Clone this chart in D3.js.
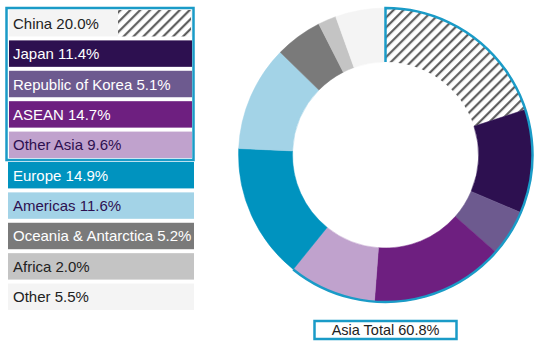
<!DOCTYPE html>
<html>
<head>
<meta charset="utf-8">
<script src="https://cdn.jsdelivr.net/npm/d3@7"></script>
<style>
  body { margin: 0; background: #fff; }
  svg { font-family: "Liberation Sans", Arial, sans-serif; }
</style>
</head>
<body>
<div id="chart"></div>
<script>
// data
var regions = ["China", "Japan", "Republic of Korea", "ASEAN", "Other Asia",
               "Europe", "Americas", "Oceania & Antarctica", "Africa", "Other"];
var shares = [20.0, 11.4, 5.1, 14.7, 9.6, 14.9, 11.6, 5.2, 2.0, 5.5];
var asiaRegions = ["China", "Japan", "Republic of Korea", "ASEAN", "Other Asia"];
var asiaTotal = 60.8;

var fills = ["url(#hatch)", "#2d1050", "#6d5a8f", "#6e1f80", "#c0a2cd",
             "#0093bf", "#a3d3e7", "#7a7a7a", "#c4c4c4", "#f4f4f4"];
var legendFills = ["#f4f4f4", "#2d1050", "#6d5a8f", "#6e1f80", "#c0a2cd",
                   "#0093bf", "#a3d3e7", "#7a7a7a", "#c4c4c4", "#f4f4f4"];
var textColors = ["#222", "#fff", "#fff", "#fff", "#2d1050",
                  "#fff", "#2d1050", "#fff", "#222", "#222"];
var frameBlue = "#1a9bc7";

var W = 540, H = 353;
var svg = d3.select("#chart").append("svg")
  .attr("width", W).attr("height", H);

// hatch pattern
var defs = svg.append("defs");
var pat = defs.append("pattern")
  .attr("id", "hatch")
  .attr("patternUnits", "userSpaceOnUse")
  .attr("width", 7).attr("height", 7)
  .attr("patternTransform", "rotate(45)");
pat.append("rect").attr("width", 7).attr("height", 7).attr("fill", "#fff");
pat.append("line").attr("x1", 1.2).attr("x2", 1.2).attr("y1", 0).attr("y2", 7)
  .attr("stroke", "#555").attr("stroke-width", 2.1);

var data = regions.map(function(r, i) { return {name: r, value: shares[i], i: i}; });

// ---- legend ----
var rowY = d3.scaleBand().domain(regions).range([10, 310]).paddingInner(0.13).paddingOuter(0);
var rowX0 = 8, rowX1 = 194;

var rows = svg.append("g").selectAll("g").data(data).enter().append("g")
  .attr("transform", function(d) { return "translate(0," + rowY(d.name) + ")"; });

rows.append("rect")
  .attr("x", function(d) { return asiaRegions.indexOf(d.name) >= 0 ? rowX0 + 1 : rowX0; })
  .attr("width", function(d) { return asiaRegions.indexOf(d.name) >= 0 ? rowX1 - rowX0 - 3 : rowX1 - rowX0; })
  .attr("height", rowY.bandwidth())
  .attr("fill", function(d) { return legendFills[d.i]; });

// hatched block on the China row
rows.filter(function(d) { return d.name === "China"; })
  .append("rect")
  .attr("x", 118).attr("width", rowX1 - 3 - 118)
  .attr("height", rowY.bandwidth())
  .attr("fill", "url(#hatch)");

rows.append("text")
  .attr("x", 13)
  .attr("y", rowY.bandwidth() / 2 + 5.5)
  .attr("fill", function(d) { return textColors[d.i]; })
  .style("font-size", "15px")
  .text(function(d) { return d.name + " " + d3.format(".1f")(d.value) + "%"; });

// frame round the Asia rows
var lastAsia = asiaRegions[asiaRegions.length - 1];
svg.append("rect")
  .attr("x", 6.5)
  .attr("y", rowY(asiaRegions[0]) - 2)
  .attr("width", 187)
  .attr("height", rowY(lastAsia) + rowY.bandwidth() - rowY(asiaRegions[0]) + 4)
  .attr("fill", "none")
  .attr("stroke", frameBlue)
  .attr("stroke-width", 2.5);

// ---- donut ----
var cx = 385.5, cy = 155, rOut = 147, rIn = 93;
var pie = d3.pie().sort(null).value(function(d) { return d.value; });
var arcs = pie(data);
var arc = d3.arc().innerRadius(rIn).outerRadius(rOut);

var g = svg.append("g").attr("transform", "translate(" + cx + "," + cy + ")");
g.selectAll("path.slice").data(arcs).enter().append("path")
  .attr("class", "slice")
  .attr("d", arc)
  .attr("fill", function(d) { return fills[d.data.i]; })
  .attr("stroke", function(d) { return fills[d.data.i] === "url(#hatch)" ? "none" : fills[d.data.i]; })
  .attr("stroke-width", 0.5);

// blue outline round the Asia part
var asiaArcs = arcs.filter(function(d) { return asiaRegions.indexOf(d.data.name) >= 0; });
var a0 = asiaArcs[0].startAngle, a1 = asiaArcs[asiaArcs.length - 1].endAngle;
var outline = d3.path();
outline.moveTo(rIn * Math.sin(a0), -rIn * Math.cos(a0));
outline.lineTo(rOut * Math.sin(a0), -rOut * Math.cos(a0));
outline.arc(0, 0, rOut, a0 - Math.PI / 2, a1 - Math.PI / 2, false);
g.append("path")
  .attr("d", outline.toString())
  .attr("fill", "none")
  .attr("stroke", frameBlue)
  .attr("stroke-width", 2.5);

// asia total box
var box = svg.append("g").attr("transform", "translate(" + cx + ",330)");
box.append("rect")
  .attr("x", -71).attr("y", -9).attr("width", 142).attr("height", 18)
  .attr("fill", "#fff").attr("stroke", frameBlue).attr("stroke-width", 2.5);
box.append("text")
  .attr("text-anchor", "middle").attr("y", 5)
  .attr("fill", "#222")
  .style("font-size", "14.5px")
  .text("Asia Total " + asiaTotal.toFixed(1) + "%");
</script>
</body>
</html>
